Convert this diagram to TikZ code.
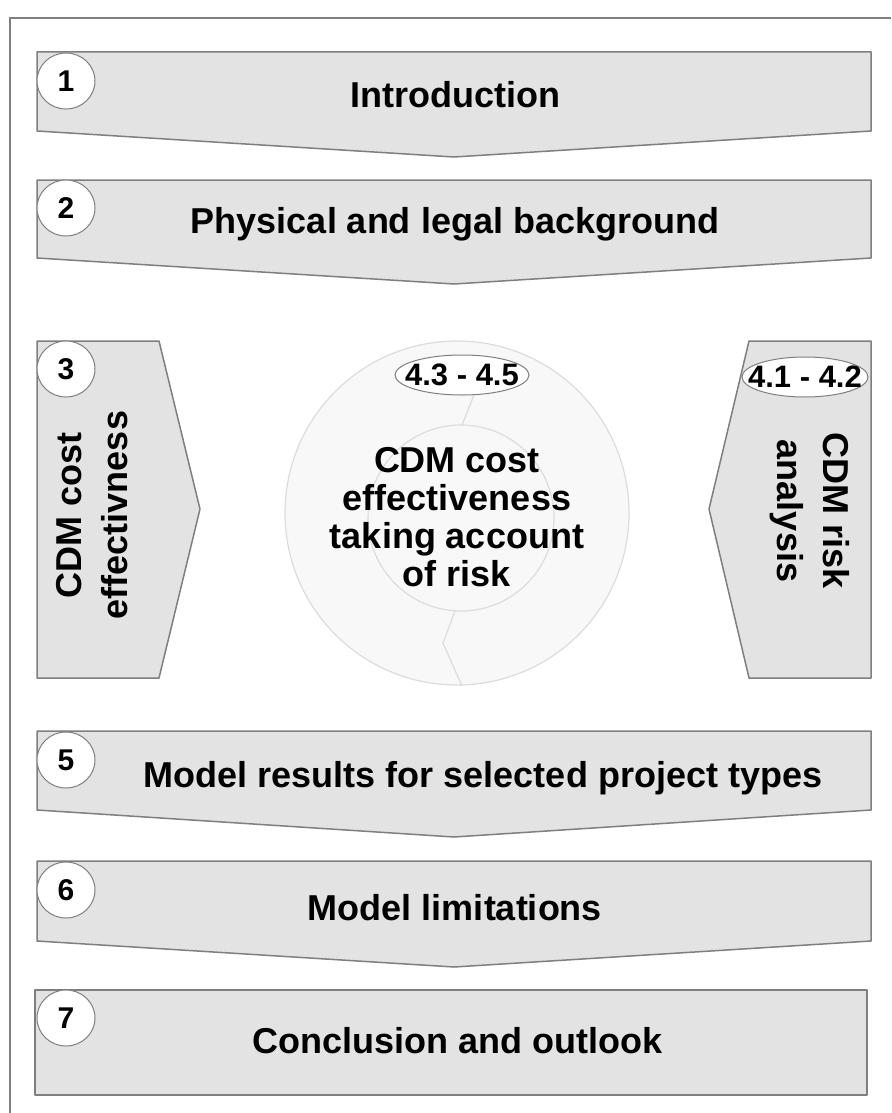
\documentclass[tikz,border=0pt]{standalone}
\usepackage{fontspec}
\setmainfont{Liberation Sans}
\usetikzlibrary{shapes.geometric}
\definecolor{boxgray}{HTML}{E3E3E3}
\definecolor{edgegray}{HTML}{7F7F7F}
\definecolor{ringfill}{HTML}{F8F8F8}
\definecolor{ringedge}{HTML}{DCDCDC}

\begin{document}
\begin{tikzpicture}[x=1pt,y=-1pt,
    chapter/.style={draw=edgegray,fill=boxgray,line width=1.5pt,line join=round},
    badge/.style={ellipse,draw=edgegray,fill=white,line width=1pt,inner sep=0pt,
      minimum width=58pt,minimum height=56pt,font=\fontsize{30}{32}\selectfont\bfseries},
    secno/.style={font=\bfseries\fontsize{31}{33}\selectfont,inner sep=0pt},
    title/.style={anchor=base,font=\bfseries\fontsize{36}{38}\selectfont},
    side/.style={align=center,font=\bfseries\fontsize{36}{46}\selectfont}]
    \useasboundingbox (0,0) rectangle (891,1113);
    \draw[edgegray,line width=1.5pt] (891,18) -- (10,18) -- (10,1113);

    \foreach \t/\s/\p in {52/131/157,180/258/284,731/810/837,861/941/967} {
        \draw[chapter] (37,\t) -- (871,\t) -- (871,\s) -- (454,\p) -- (37,\s) -- cycle;
    }
    \draw[chapter] (37,341) -- (159,341) -- (200,509) -- (159,678) -- (37,678) -- cycle;
    \draw[chapter] (871,341) -- (749,341) -- (709,509) -- (749,678) -- (871,678) -- cycle;
    \draw[chapter,line width=2pt] (35,990) rectangle (867,1095);

    \begin{scope}[ringedge,line width=1.2pt]
        \filldraw[fill=ringfill] (457,513) circle [radius=172pt];
        \draw (461,518) circle [radius=93pt];
        \draw (478,385) -- (462,425);
        \draw (455,611) -- (443,643) -- (462,686);
    \end{scope}

    \foreach \num/\ypos in {1/81,2/208,3/369,5/760,6/890,7/1018} {
        \node[badge] (b\num) at (66,\ypos) {\num};
    }
    \draw[edgegray,fill=white,line width=1pt] (462,375) ellipse [x radius=67pt,y radius=20pt];
    \node[secno] (b43) at (462,375) {4.3 - 4.5};
    \draw[edgegray,fill=white,line width=1pt] (805,377) ellipse [x radius=63pt,y radius=20pt];
    \node[secno] (b41) at (805,377) {4.1 - 4.2};

    \node[title] (intro) at (455,108) {Introduction};
    \node[title] (backgr) at (455,233) {Physical and legal background};
    \node[side,rotate=90] (cost) at (92,515) {CDM cost\\effectivness};
    \node[side,font=\bfseries\fontsize{36}{38}\selectfont] (core) at (457,517) {CDM cost\\effectiveness\\taking account\\of risk};
    \node[side,rotate=-90] (risk) at (810,511) {CDM risk\\analysis};
    \node[title] (results) at (483,787) {Model results for selected project types};
    \node[title] (limits) at (455,920) {Model limitations};
    \node[title] (concl) at (457,1053) {Conclusion and outlook};
\end{tikzpicture}
\end{document}
